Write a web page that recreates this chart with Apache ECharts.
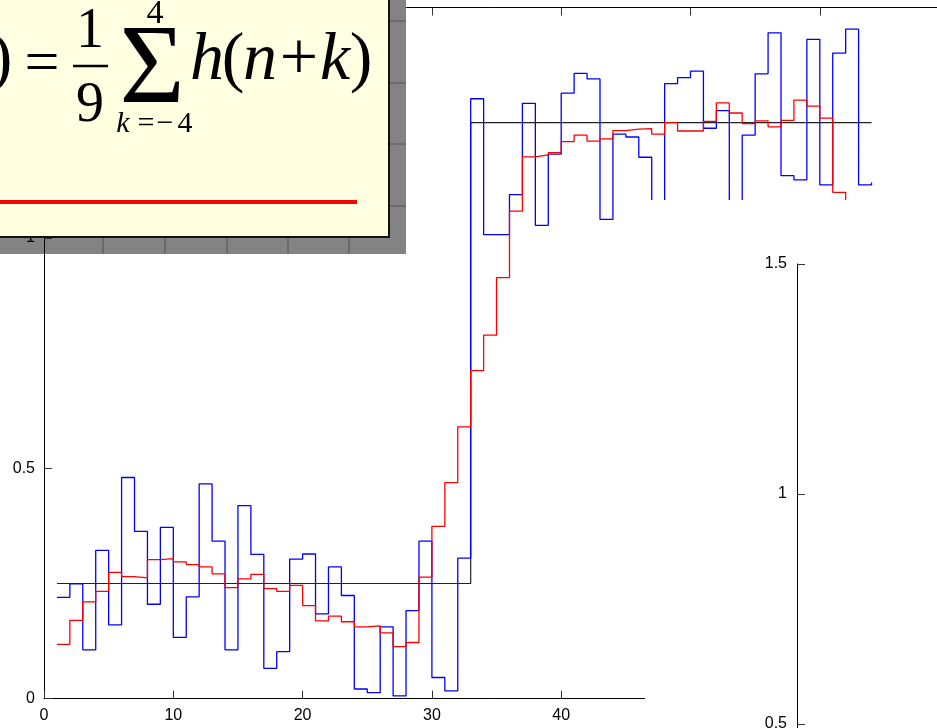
<!DOCTYPE html>
<html>
<head>
<meta charset="utf-8">
<script src="https://cdn.jsdelivr.net/npm/echarts@6/dist/echarts.min.js"></script>
<style>
  html, body { margin: 0; padding: 0; background: #fff; }
  #chart { width: 937px; height: 728px; }
</style>
</head>
<body>
<div id="chart"></div>
<script>
// Noisy step input h(n), n = 1..64
const noisySignal = [
  0.220, 0.249, 0.106, 0.322, 0.160, 0.480, 0.363, 0.205, 0.372, 0.133,
  0.221, 0.466, 0.342, 0.106, 0.419, 0.313, 0.066, 0.102, 0.303, 0.314,
  0.184, 0.286, 0.224, 0.021, 0.013, 0.156, 0.006, 0.191, 0.342, 0.046,
  0.017, 0.305, 1.302, 1.007, 1.007, 1.094, 1.292, 1.027, 1.182, 1.314,
  1.357, 1.345, 1.040, 1.225, 1.219, 1.175, 1.075, 1.335, 1.348, 1.362,
  1.238, 1.276, 1.060, 1.223, 1.356, 1.445, 1.135, 1.126, 1.431, 1.115,
  1.401, 1.453, 1.115, 1.120
];

// 9-point moving average of h(n)
const movingAverage = [
  0.118, 0.170, 0.210, 0.233, 0.274, 0.265, 0.262, 0.302, 0.304, 0.297,
  0.291, 0.286, 0.271, 0.241, 0.260, 0.270, 0.239, 0.233, 0.246, 0.202,
  0.169, 0.179, 0.167, 0.156, 0.158, 0.143, 0.113, 0.122, 0.264, 0.374,
  0.469, 0.590, 0.712, 0.789, 0.914, 1.058, 1.176, 1.180, 1.185, 1.209,
  1.223, 1.210, 1.215, 1.233, 1.236, 1.237, 1.225, 1.250, 1.232, 1.232,
  1.253, 1.293, 1.271, 1.248, 1.254, 1.241, 1.255, 1.299, 1.286, 1.260,
  1.099, 0.973, 0.848, 0.689
];

// Clean step the noise sits on
const cleanStep = [
  0.25, 0.25, 0.25, 0.25, 0.25, 0.25, 0.25, 0.25, 0.25, 0.25,
  0.25, 0.25, 0.25, 0.25, 0.25, 0.25, 0.25, 0.25, 0.25, 0.25,
  0.25, 0.25, 0.25, 0.25, 0.25, 0.25, 0.25, 0.25, 0.25, 0.25,
  0.25, 0.25, 1.25, 1.25, 1.25, 1.25, 1.25, 1.25, 1.25, 1.25,
  1.25, 1.25, 1.25, 1.25, 1.25, 1.25, 1.25, 1.25, 1.25, 1.25,
  1.25, 1.25, 1.25, 1.25, 1.25, 1.25, 1.25, 1.25, 1.25, 1.25,
  1.25, 1.25, 1.25, 1.25
];

const sampleIndex = noisySignal.map((_, i) => i + 1);
const pairs = arr => arr.map((v, i) => [sampleIndex[i], v]);

const serif = "'Liberation Serif', 'Times New Roman', serif";
const sans = "'Liberation Sans', Arial, sans-serif";

const axisLineStyle = { color: '#000', width: 1 };
const tickStyle = { color: '#333', width: 1 };
const labelStyle = { color: '#000', fontSize: 16, fontFamily: sans };

function glyph(text, x, y, size, italic, align, z) {
  return {
    type: 'text', z: z || 11, silent: true,
    style: {
      text: text, x: x, y: y,
      font: (italic ? 'italic ' : '') + size + 'px ' + serif,
      fill: '#000', textAlign: align || 'center', textVerticalAlign: 'middle'
    }
  };
}

const chart = echarts.init(document.getElementById('chart'), null, { renderer: 'canvas' });

chart.setOption({
  animation: false,
  backgroundColor: '#fff',
  grid: [
    { left: 44, top: 7.5, width: 905.1, height: 691.2, containLabel: false, outerBoundsMode: 'none' },
    { left: 797, top: 264, width: 258.6, height: 690, containLabel: false, outerBoundsMode: 'none' }
  ],
  xAxis: [
    {
      gridIndex: 0, type: 'value', position: 'bottom', min: 0, max: 70, interval: 10, z: 5,
      axisLine: { lineStyle: axisLineStyle },
      axisTick: { inside: true, length: 8, lineStyle: tickStyle },
      axisLabel: Object.assign({ margin: 9 }, labelStyle),
      splitLine: { show: false }
    },
    {
      gridIndex: 0, type: 'value', position: 'top', min: 0, max: 70, interval: 10, z: 1,
      axisLine: { lineStyle: axisLineStyle },
      axisTick: { inside: true, length: 8, lineStyle: tickStyle },
      axisLabel: { show: false },
      splitLine: { show: false }
    },
    {
      gridIndex: 1, type: 'value', position: 'top', min: 0, max: 20, interval: 10, z: 9,
      axisLine: { lineStyle: axisLineStyle },
      axisTick: { inside: true, length: 8, lineStyle: tickStyle },
      axisLabel: { show: false },
      splitLine: { show: false }
    }
  ],
  yAxis: [
    {
      gridIndex: 0, type: 'value', min: 0, max: 1.5, interval: 0.5, z: 5,
      axisLine: { lineStyle: axisLineStyle },
      axisTick: { inside: true, length: 8, lineStyle: tickStyle },
      axisLabel: Object.assign({ margin: 9 }, labelStyle),
      splitLine: { show: false }
    },
    {
      gridIndex: 1, type: 'value', min: 0, max: 1.5, interval: 0.5, z: 9,
      axisLine: { lineStyle: axisLineStyle },
      axisTick: { inside: true, length: 8, lineStyle: tickStyle },
      axisLabel: Object.assign({ margin: 10 }, labelStyle),
      splitLine: { show: false }
    }
  ],
  series: [
    {
      type: 'line', xAxisIndex: 0, yAxisIndex: 0, step: 'end', showSymbol: false, z: 2,
      data: pairs(cleanStep),
      lineStyle: { color: '#222', width: 1.2 }
    },
    {
      type: 'line', xAxisIndex: 0, yAxisIndex: 0, step: 'end', showSymbol: false, z: 2,
      data: pairs(noisySignal),
      lineStyle: { color: '#0000ff', width: 1.3 }
    },
    {
      type: 'line', xAxisIndex: 0, yAxisIndex: 0, step: 'end', showSymbol: false, z: 2,
      data: pairs(movingAverage),
      lineStyle: { color: '#ff0000', width: 1.3 }
    }
  ],
  graphic: [
    // second figure panel laid over the lower right
    { type: 'rect', z: 8, silent: true, shape: { x: 645, y: 200, width: 300, height: 540 }, style: { fill: '#fff' } },

    // drop shadow of the formula card
    { type: 'rect', z: 3, silent: true, shape: { x: 389, y: 0, width: 17, height: 254 }, style: { fill: '#838383' } },
    { type: 'rect', z: 3, silent: true, shape: { x: 0, y: 237, width: 406, height: 17 }, style: { fill: '#838383' } },
    { type: 'line', z: 3, silent: true, shape: { x1: 390, y1: 21, x2: 406, y2: 21 }, style: { stroke: '#555', lineWidth: 1 } },
    { type: 'line', z: 3, silent: true, shape: { x1: 390, y1: 83, x2: 406, y2: 83 }, style: { stroke: '#555', lineWidth: 1 } },
    { type: 'line', z: 3, silent: true, shape: { x1: 390, y1: 144, x2: 406, y2: 144 }, style: { stroke: '#555', lineWidth: 1 } },
    { type: 'line', z: 3, silent: true, shape: { x1: 390, y1: 206, x2: 406, y2: 206 }, style: { stroke: '#555', lineWidth: 1 } },
    { type: 'line', z: 3, silent: true, shape: { x1: 103, y1: 238, x2: 103, y2: 254 }, style: { stroke: '#555', lineWidth: 1 } },
    { type: 'line', z: 3, silent: true, shape: { x1: 165, y1: 238, x2: 165, y2: 254 }, style: { stroke: '#555', lineWidth: 1 } },
    { type: 'line', z: 3, silent: true, shape: { x1: 227, y1: 238, x2: 227, y2: 254 }, style: { stroke: '#555', lineWidth: 1 } },
    { type: 'line', z: 3, silent: true, shape: { x1: 288, y1: 238, x2: 288, y2: 254 }, style: { stroke: '#555', lineWidth: 1 } },
    { type: 'line', z: 3, silent: true, shape: { x1: 349, y1: 238, x2: 349, y2: 254 }, style: { stroke: '#555', lineWidth: 1 } },

    // formula card
    { type: 'rect', z: 10, silent: true, shape: { x: -4, y: -4, width: 393, height: 241 },
      style: { fill: '#ffffe1', stroke: '#111', lineWidth: 2 } },
    { type: 'line', z: 11, silent: true, shape: { x1: 0, y1: 202, x2: 357, y2: 202 },
      style: { stroke: '#ff0000', lineWidth: 4 } },

    glyph(')', 1, 61, 68, false),
    glyph('=', 42, 66, 62, false),
    glyph('1', 90, 32, 56, false),
    { type: 'line', z: 11, silent: true, shape: { x1: 73, y1: 66, x2: 108, y2: 66 }, style: { stroke: '#000', lineWidth: 2.5 } },
    glyph('9', 90, 106, 56, false),
    glyph('\u03A3', 152, 73, 112, false),
    glyph('4', 155, 14, 34, false),
    glyph('k', 123, 124, 30, true),
    glyph('=', 146, 124, 30, false),
    glyph('\u2212', 165, 124, 30, false),
    glyph('4', 185, 124, 30, false),
    glyph('h', 207, 61, 68, true),
    glyph('(', 233, 61, 68, false),
    glyph('n', 260, 61, 68, true),
    glyph('+', 299, 61, 68, false),
    glyph('k', 335, 61, 68, true),
    glyph(')', 361, 61, 68, false)
  ]
});
</script>
</body>
</html>
